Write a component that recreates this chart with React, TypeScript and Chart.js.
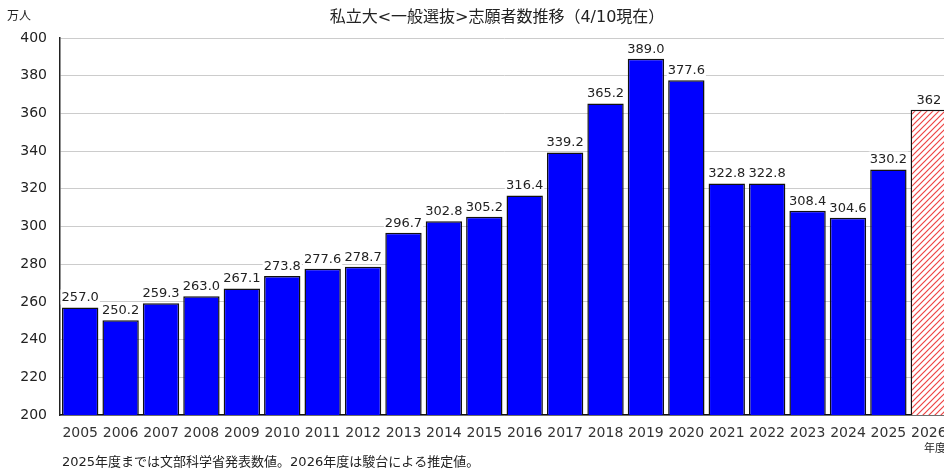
import React, { useEffect, useRef } from "react";
import { Chart, registerables } from "chart.js";

Chart.register(...registerables);

const years = ["2005","2006","2007","2008","2009","2010","2011","2012","2013","2014","2015","2016","2017","2018","2019","2020","2021","2022","2023","2024","2025","2026"];
const applicants = [257.0,250.2,259.3,263.0,267.1,273.8,277.6,278.7,296.7,302.8,305.2,316.4,339.2,365.2,389.0,377.6,322.8,322.8,308.4,304.6,330.2,362];
const valueLabels = ["257.0","250.2","259.3","263.0","267.1","273.8","277.6","278.7","296.7","302.8","305.2","316.4","339.2","365.2","389.0","377.6","322.8","322.8","308.4","304.6","330.2","362"];
const yTicks = [200,220,240,260,280,300,320,340,360,380,400];

const titleText = "私立大<一般選抜>志願者数推移（4/10現在）";
const unitText = "万人";
const xUnitText = "年度";
const noteText = "2025年度までは文部科学省発表数値。2026年度は駿台による推定値。";

const FONT = "'DejaVu Sans', 'Noto Sans CJK JP', sans-serif";

function makeHatch(): CanvasPattern | string {
  const c = document.createElement("canvas");
  c.width = 6;
  c.height = 6;
  const g = c.getContext("2d");
  if (!g) return "#ff8080";
  g.fillStyle = "#ffffff";
  g.fillRect(0, 0, 6, 6);
  g.strokeStyle = "#ee4444";
  g.lineWidth = 1.2;
  g.beginPath();
  g.moveTo(0, 6);
  g.lineTo(6, 0);
  g.moveTo(-3, 3);
  g.lineTo(3, -3);
  g.moveTo(3, 9);
  g.lineTo(9, 3);
  g.stroke();
  const p = g.createPattern(c, "repeat");
  return p || "#ff8080";
}

export default function App() {
  const ref = useRef<HTMLCanvasElement | null>(null);

  useEffect(() => {
    const canvas = ref.current;
    if (!canvas) return;
    const hatch = makeHatch();
    const colors = years.map((y, i) => (i === years.length - 1 ? hatch : "#0000ff"));

    const overlay = {
      id: "overlay",
      afterDatasetsDraw(chart: any) {
        const ctx = chart.ctx;
        const meta = chart.getDatasetMeta(0);
        ctx.save();
        ctx.font = `13px ${FONT}`;
        ctx.textAlign = "center";
        ctx.textBaseline = "bottom";
        meta.data.forEach((bar: any, i: number) => {
          const t = valueLabels[i];
          const w = ctx.measureText(t).width;
          const yb = bar.y - 3;
          ctx.fillStyle = "#ffffff";
          ctx.fillRect(bar.x - w / 2 - 1, yb - 15, w + 2, 15);
          ctx.fillStyle = "#222222";
          ctx.fillText(t, bar.x, yb);
        });
        ctx.restore();
      },
      afterDraw(chart: any) {
        const ctx = chart.ctx;
        ctx.save();
        ctx.fillStyle = "#222222";
        ctx.textBaseline = "middle";
        ctx.font = `16px ${FONT}`;
        ctx.textAlign = "center";
        ctx.fillText(titleText, 497, 18);
        ctx.font = `12px ${FONT}`;
        ctx.textAlign = "left";
        ctx.fillText(unitText, 7, 17);
        ctx.font = `13px ${FONT}`;
        ctx.fillText(noteText, 62, 463);
        ctx.font = `11px ${FONT}`;
        ctx.fillText(xUnitText, 924, 449);
        ctx.restore();
      },
    };

    const chart = new Chart(canvas, {
      type: "bar",
      data: {
        labels: years,
        datasets: [
          {
            data: applicants,
            backgroundColor: colors as any,
            borderColor: "#111111",
            borderWidth: 1.5,
            borderSkipped: false,
            barPercentage: 0.9,
            categoryPercentage: 1.0,
          },
        ],
      },
      options: {
        animation: false,
        responsive: false,
        maintainAspectRatio: false,
        devicePixelRatio: 1,
        layout: { padding: { top: 38, left: 0, right: 51, bottom: 0 } },
        plugins: {
          legend: { display: false },
          title: { display: false },
          tooltip: { enabled: false },
        },
        scales: {
          x: {
            grid: { display: false, drawTicks: false },
            border: { color: "#111111", width: 1.5 },
            ticks: {
              color: "#333333",
              font: { family: FONT, size: 14 },
              padding: 10,
              maxRotation: 0,
              autoSkip: false,
            },
            afterFit(scale: any) {
              scale.height = 58;
            },
          },
          y: {
            min: 200,
            max: 400,
            afterBuildTicks(scale: any) {
              scale.ticks = yTicks.map((v) => ({ value: v }));
            },
            grid: { color: "#cccccc", lineWidth: 1, drawTicks: false },
            border: { color: "#222222", width: 1.5 },
            ticks: {
              color: "#222222",
              font: { family: FONT, size: 14 },
              padding: 13,
            },
            afterFit(scale: any) {
              scale.width = 60;
            },
          },
        },
      },
      plugins: [overlay],
    });
    return () => chart.destroy();
  }, []);

  return (
    <div style={{ position: "fixed", left: 0, top: 0, width: 944, height: 473, overflow: "hidden", background: "#fff" }}>
      <canvas ref={ref} width={1000} height={473} style={{ display: "block", width: 1000, height: 473 }} />
    </div>
  );
}
